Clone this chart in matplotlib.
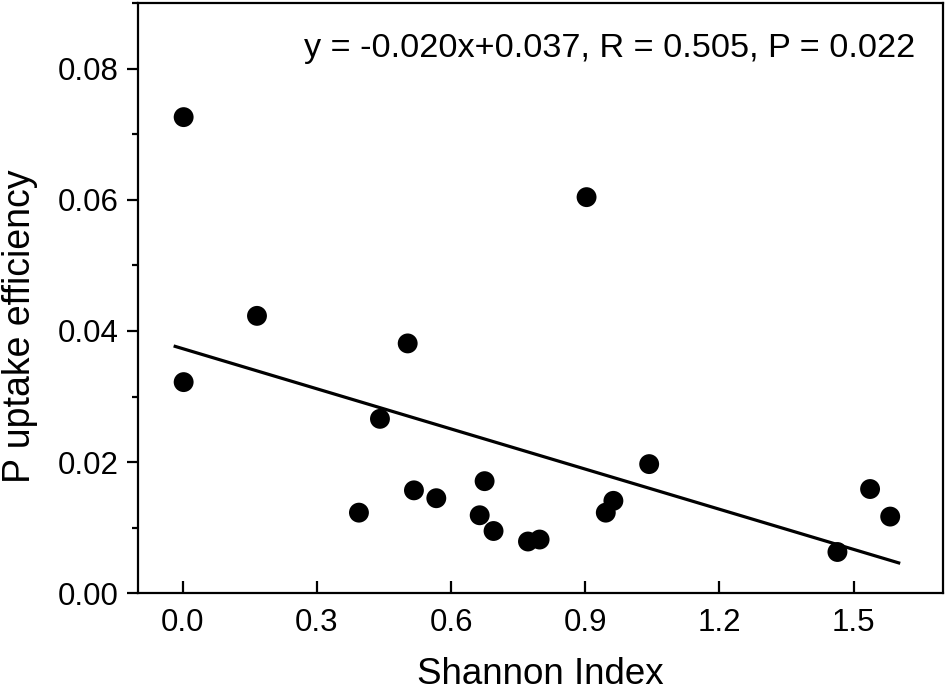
import numpy as np
import matplotlib
matplotlib.use("Agg")
import matplotlib.pyplot as plt
from matplotlib.ticker import MultipleLocator, FormatStrFormatter

plt.rcParams['font.family'] = ['Liberation Sans', 'DejaVu Sans']

# Data
shannon = [0.002, 0.002, 0.166, 0.394, 0.441, 0.503, 0.517, 0.567, 0.664, 0.675,
           0.695, 0.772, 0.798, 0.903, 0.946, 0.963, 1.043, 1.464, 1.537, 1.582]
p_eff = [0.0726, 0.0322, 0.0423, 0.0123, 0.0266, 0.0381, 0.0157, 0.0145, 0.0119, 0.0171,
         0.0095, 0.0079, 0.0082, 0.0604, 0.0123, 0.0141, 0.0197, 0.0063, 0.0159, 0.0117]

slope = -0.0204
intercept = 0.0373
eq_text = "y = -0.020x+0.037, R = 0.505, P = 0.022"

x_ticks = [0.0, 0.3, 0.6, 0.9, 1.2, 1.5]
y_ticks = [0.00, 0.02, 0.04, 0.06, 0.08]

fig = plt.figure(figsize=(9.5, 6.95), dpi=100)
ax = fig.add_axes([0.1453, 0.1463, 0.8473, 0.8494])

ax.scatter(shannon, p_eff, s=205, color='black', edgecolors='none', zorder=3)

xs = np.array(shannon)
rng = xs.max() - xs.min()
xl = np.array([xs.min() - 0.012 * rng, xs.max() + 0.012 * rng])
ax.plot(xl, slope * xl + intercept, color='black', lw=2.3, zorder=2)

ax.set_xlim(-0.1, 1.7)
ax.set_ylim(0, 0.09)
ax.set_xticks(x_ticks)
ax.set_yticks(y_ticks)
ax.xaxis.set_major_formatter(FormatStrFormatter('%.1f'))
ax.yaxis.set_major_formatter(FormatStrFormatter('%.2f'))
ax.yaxis.set_minor_locator(MultipleLocator(0.01))

for s in ax.spines.values():
    s.set_linewidth(1.6)

ax.tick_params(axis='x', which='major', direction='in', length=8.5, width=1.6,
               labelsize=22.5, pad=10.5)
ax.tick_params(axis='y', which='major', direction='out', length=8, width=1.6,
               labelsize=22.5, pad=6)
ax.tick_params(axis='y', which='minor', direction='out', length=4.5, width=1.6)

ax.set_xlabel("Shannon Index", fontsize=26.5, labelpad=14)
ax.set_ylabel("P uptake efficiency", fontsize=27)
ax.yaxis.set_label_coords(-0.124, 0.453)

ax.text(0.965, 0.908, eq_text, transform=ax.transAxes, ha='right', va='baseline',
        fontsize=24.7)

fig.savefig("out.png", dpi=100)
